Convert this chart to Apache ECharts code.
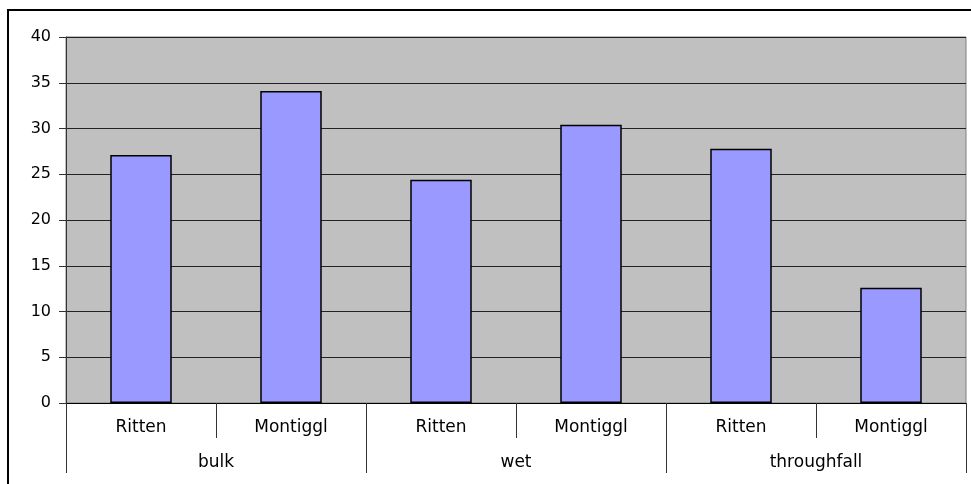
<!DOCTYPE html>
<html>
<head>
<meta charset="utf-8">
<script src="https://cdn.jsdelivr.net/npm/echarts@6/dist/echarts.min.js"></script>
<style>
  html, body { margin: 0; padding: 0; background: #fff; }
  #main { width: 971px; height: 484px; }
</style>
</head>
<body>
<div id="main"></div>
<script>
// sites per group, and the groups themselves
const sites = ["Ritten", "Montiggl", "Ritten", "Montiggl", "Ritten", "Montiggl"];
const groups = ["bulk", "wet", "throughfall"];
const values = [27.1, 34.1, 24.4, 30.4, 27.8, 12.6];
const yTicks = { min: 0, max: 40, step: 5 };

const chart = echarts.init(document.getElementById("main"));
const font = "DejaVu Sans";

const option = {
  animation: false,
  backgroundColor: "#fff",
  graphic: [
    {
      type: "rect",
      shape: { x: 8, y: 10, width: 1000, height: 520 },
      style: { fill: "none", stroke: "#000", lineWidth: 2 },
      silent: true
    }
  ],
  grid: {
    left: 66,
    top: 37,
    right: 5,
    bottom: 81,
    show: true,
    backgroundColor: "#C0C0C0",
    borderColor: "#808080",
    borderWidth: 1
  },
  xAxis: [
    {
      type: "category",
      position: "bottom",
      data: sites,
      axisLine: { lineStyle: { color: "#000", width: 1 } },
      axisTick: { show: true, interval: 0, length: 35, lineStyle: { color: "#333" } },
      axisLabel: { interval: 0, color: "#000", fontFamily: font, fontSize: 17, margin: 16 },
      splitLine: { show: false }
    },
    {
      type: "category",
      position: "bottom",
      data: groups,
      axisLine: { show: false },
      axisTick: { show: true, interval: 0, length: 70, lineStyle: { color: "#333" } },
      axisLabel: { interval: 0, color: "#000", fontFamily: font, fontSize: 17, margin: 51 },
      splitLine: { show: false }
    }
  ],
  yAxis: {
    type: "value",
    min: yTicks.min,
    max: yTicks.max,
    interval: yTicks.step,
    axisLine: { show: true, lineStyle: { color: "#333" } },
    axisTick: { show: true, length: 7, lineStyle: { color: "#333" } },
    axisLabel: { color: "#000", fontFamily: font, fontSize: 16, margin: 15 },
    splitLine: { lineStyle: { color: "#222", width: 1 } }
  },
  series: [
    {
      type: "bar",
      xAxisIndex: 0,
      data: values,
      barWidth: "41%",
      itemStyle: { color: "#9999FF", borderColor: "#000", borderWidth: 1.5 }
    }
  ]
};

chart.setOption(option);
</script>
</body>
</html>
